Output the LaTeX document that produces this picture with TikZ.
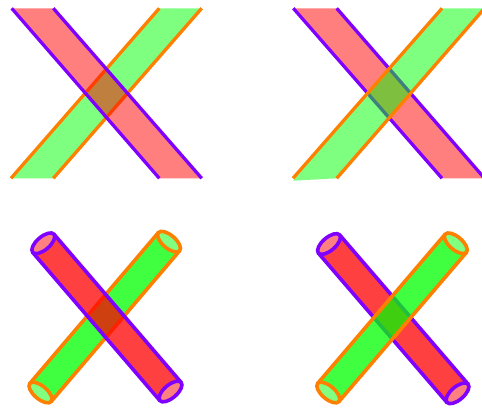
\documentclass[tikz,border=0pt]{standalone}
\usetikzlibrary{calc}
\definecolor{vio}{RGB}{128,0,255}
\definecolor{org}{RGB}{255,128,0}
\tikzset{
  edge/.style={line width=3.3pt},
  cyledge/.style={line width=3.6pt},
  bandfill/.style={fill=#1, fill opacity=0.5, draw=none},
  cylfill/.style={fill=#1, fill opacity=0.75, draw=none},
}
% #1 start, #2 end, #3 fill colour, #4 line colour
\newcommand\mycyl[4]{%
  \coordinate (cA) at #1;
  \coordinate (cB) at #2;
  \coordinate (cA1) at ($(cA)!14pt!90:(cB)$);
  \coordinate (cA2) at ($(cA)!14pt!-90:(cB)$);
  \coordinate (cB1) at ($(cB)!14pt!-90:(cA)$);
  \coordinate (cB2) at ($(cB)!14pt!90:(cA)$);
  \path[cylfill=#3] (cA1) -- (cB1) -- (cB2) -- (cA2) -- cycle;
  \draw[cyledge, draw=#4] (cA1) -- (cB1) (cA2) -- (cB2);
  \draw[cyledge, draw=#4, fill=#3!50] let \p1=($(cB)-(cA)$), \n1={atan2(\y1,\x1)} in
    (cA) ellipse [x radius=6.5pt, y radius=14pt, rotate=\n1]
    (cB) ellipse [x radius=6.5pt, y radius=14pt, rotate=\n1];
}
\begin{document}
\begin{tikzpicture}[x=1pt, y=-1pt]
\useasboundingbox (0,0) rectangle (482,411);
% ---------- top left: green under, red over ----------
\coordinate (g1) at (11,178.3);
\coordinate (g2) at (159.3,8.3);
\coordinate (g3) at (201.7,8.3);
\coordinate (g4) at (53.3,178.3);
\coordinate (r1) at (11.7,8.3);
\coordinate (r2) at (53.3,8.3);
\coordinate (r3) at (201.7,178.3);
\coordinate (r4) at (159.3,178.3);
\path[bandfill=green] (g1) -- (g2) -- (g3) -- (g4) -- cycle;
\draw[edge, draw=org] (g1) -- (g2) (g4) -- (g3);
\path[bandfill=red] (r1) -- (r2) -- (r3) -- (r4) -- cycle;
\draw[edge, draw=vio] (r1) -- (r4) (r2) -- (r3);
% ---------- top right: red under, green over ----------
\coordinate (G1) at (293,178.3);
\coordinate (G1f) at (293,180.7);
\coordinate (G2) at (442,8.3);
\coordinate (G3) at (484.5,8.3);
\coordinate (G4) at (336.7,178.3);
\coordinate (R1) at (293.3,8.3);
\coordinate (R2) at (336.7,8.3);
\coordinate (R3) at (484.5,178.3);
\coordinate (R4) at (442,178.3);
\path[bandfill=red] (R1) -- (R2) -- (R3) -- (R4) -- cycle;
\draw[edge, draw=vio] (R1) -- (R4) (R2) -- (R3);
\path[bandfill=green] (G1f) -- (G2) -- (G3) -- (G4) -- cycle;
\draw[edge, draw=org] (G1) -- (G2) (G4) -- (G3);
% ---------- bottom left: green under, red over ----------
\mycyl{(40.5,392.5)}{(169,241.7)}{green}{org}
\mycyl{(43.3,243.3)}{(170.5,391.5)}{red}{vio}
% ---------- bottom right: red under, green over ----------
\mycyl{(329,244)}{(457.5,393.3)}{red}{vio}
\mycyl{(328.3,392.5)}{(455.8,243.3)}{green}{org}
\end{tikzpicture}
\end{document}
